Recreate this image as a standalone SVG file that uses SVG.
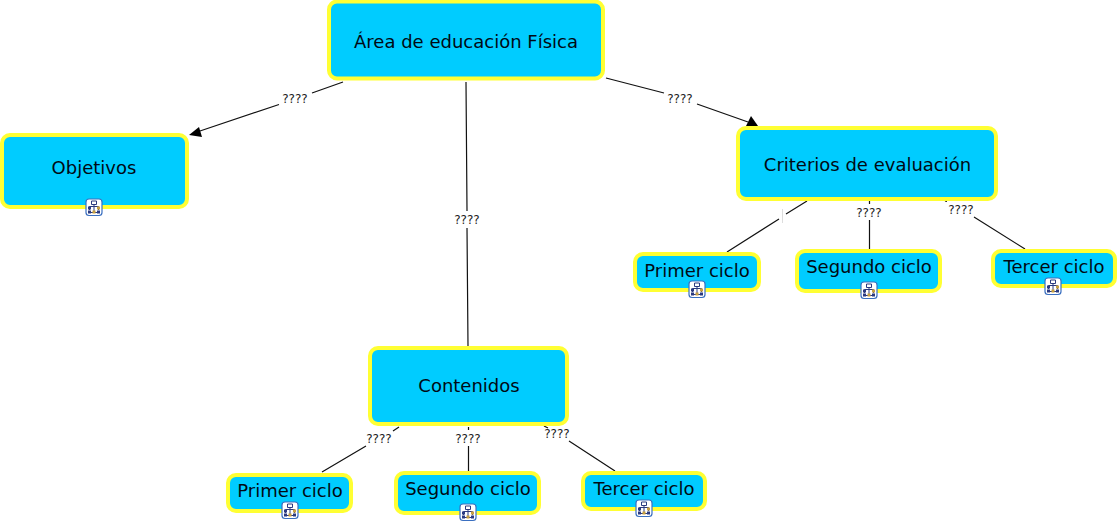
<svg xmlns="http://www.w3.org/2000/svg" width="1117" height="524" viewBox="0 0 1117 524">
<style>
.n{fill:#00ccff;stroke:#ffff33;stroke-width:4}
.t{font-family:"DejaVu Sans",Verdana,sans-serif;font-size:18px;fill:#000a14;text-anchor:middle}
.l{font-family:"DejaVu Sans",Verdana,sans-serif;font-size:12px;fill:#222;text-anchor:middle}
.c{stroke:#111;stroke-width:1.2;fill:none}
.a{fill:#000}
.ib{fill:#fff;stroke:#3a6fc0;stroke-width:1.2}
.ic{fill:none;stroke:#2b3a80;stroke-width:1}
.id{fill:#2b3a80}
.iy{fill:#c8a040}
</style>
<defs>
<g id="icon">
<rect class="ib" x="-8" y="-8" width="16" height="16.500" rx="3"/>
<path class="ic" d="M-2.500-6h5v3.500h-5zM0-2.500V5M-4.500 3V-.5H4.500V3M-4.500 5.500H4.500"/>
<rect class="id" x="-6" y="-.5" width="3" height="3"/>
<rect class="iy" x="3" y="-.5" width="3" height="3"/>
<rect class="id" x="-6" y="3.500" width="3" height="3"/>
<rect class="iy" x="-1.500" y="3.500" width="3" height="3"/>
<rect class="id" x="3" y="3.500" width="3" height="3"/>
</g>
</defs>
<g id="connectors">
<path class="c" d="M343 82L312 93M279 104.500L197 132"/>
<polygon class="a" points="189,135 199,127 202,137"/>
<path class="c" d="M466 82L467 211M467 228L468 346"/>
<path class="c" d="M606 78L664 93M697 104L748 122"/>
<polygon class="a" points="758,126 746,126 751,116"/>
<path class="c" d="M807 201L786 214M779 219L727 252"/>
<path d="M782.500 209V223" stroke="#ddd" stroke-width="1" fill="none"/>
<path class="c" d="M869.500 201V204M869.500 220V249"/>
<path class="c" d="M945 201L947 201.500M974 217L1025 249"/>
<path class="c" d="M399 427L393 431M366 446L322 472"/>
<path class="c" d="M468.500 427V430M468.500 446V471"/>
<path class="c" d="M544 426L548 428M569 441L615 471"/>
<text class="l" x="295" y="103">????</text>
<text class="l" x="467" y="224">????</text>
<text class="l" x="680" y="103">????</text>
<text class="l" x="869" y="217">????</text>
<text class="l" x="961" y="214">????</text>
<text class="l" x="379" y="443">????</text>
<text class="l" x="468" y="443">????</text>
<text class="l" x="557" y="438">????</text>
</g>
<g id="node-area"><rect class="n" x="329" y="1.500" width="274" height="77" rx="8"/><text class="t" x="466" y="48">Área de educación Física</text></g>
<g id="node-objetivos"><rect class="n" x="2" y="135" width="185" height="72" rx="8"/><text class="t" x="94" y="174">Objetivos</text><use href="#icon" x="94" y="207"/></g>
<g id="node-criterios"><rect class="n" x="738" y="128" width="258" height="71" rx="8"/><text class="t" x="867.500" y="171">Criterios de evaluación</text></g>
<g id="node-contenidos"><rect class="n" x="370" y="348" width="197" height="76" rx="8"/><text class="t" x="469" y="392">Contenidos</text></g>
<g id="node-primer-r"><rect class="n" x="635" y="254" width="124" height="36" rx="8"/><text class="t" x="697" y="277">Primer ciclo</text><use href="#icon" x="697" y="289"/></g>
<g id="node-segundo-r"><rect class="n" x="797" y="251" width="143" height="40" rx="8"/><text class="t" x="869" y="273">Segundo ciclo</text><use href="#icon" x="869" y="290"/></g>
<g id="node-tercer-r"><rect class="n" x="993" y="251" width="122" height="35" rx="8"/><text class="t" x="1054" y="273">Tercer ciclo</text><use href="#icon" x="1053" y="286"/></g>
<g id="node-primer-l"><rect class="n" x="228" y="475" width="123" height="36" rx="8"/><text class="t" x="290" y="497">Primer ciclo</text><use href="#icon" x="290" y="510"/></g>
<g id="node-segundo-l"><rect class="n" x="396" y="473" width="143" height="40" rx="8"/><text class="t" x="468" y="495">Segundo ciclo</text><use href="#icon" x="468" y="512"/></g>
<g id="node-tercer-l"><rect class="n" x="583" y="473" width="122" height="36" rx="8"/><text class="t" x="644" y="495">Tercer ciclo</text><use href="#icon" x="644" y="508"/></g>
</svg>
